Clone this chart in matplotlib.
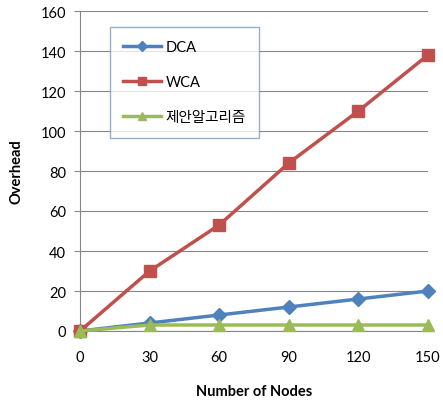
import matplotlib
matplotlib.use("Agg")
import matplotlib.pyplot as plt

nodes = [0, 30, 60, 90, 120, 150]
dca = [0, 4, 8, 12, 16, 20]
wca = [0, 30, 53, 84, 110, 138]
proposed = [0, 3, 3, 3, 3, 3]
labels = ["DCA", "WCA", "제안알고리즘"]

plt.rcParams['font.family'] = ['Lato', 'Noto Sans CJK KR', 'DejaVu Sans']

fig = plt.figure(figsize=(4.43, 4.06), dpi=100)
ax = fig.add_axes([80/443, 74/406, 348/443, 320/406])

ax.plot(nodes, dca, color='#4F81BD', marker='D', markersize=7, linewidth=2.5, label=labels[0], clip_on=False, zorder=3)
ax.plot(nodes, wca, color='#C0504D', marker='s', markersize=8, linewidth=2.5, label=labels[1], clip_on=False, zorder=3)
ax.plot(nodes, proposed, color='#9BBB59', marker='^', markersize=8, linewidth=2.5, label=labels[2], clip_on=False, zorder=4)

ax.set_xlim(0, 150)
ax.set_ylim(0, 160)
ax.set_xticks(nodes)
ax.set_yticks(range(0, 161, 20))
ax.yaxis.grid(True, color='#868686', linewidth=0.8)
ax.set_axisbelow(True)
for s in ['top', 'right']:
    ax.spines[s].set_visible(False)
for s in ['left', 'bottom']:
    ax.spines[s].set_color('#868686')
ax.tick_params(axis='y', length=4, color='#868686', labelsize=10.5, pad=6)
ax.tick_params(axis='x', length=0, labelsize=10.5, pad=14)

ax.set_xlabel("Number of Nodes", fontsize=10.5, fontweight='bold', labelpad=14)
ax.set_ylabel("Overhead", fontsize=10.5, fontweight='bold', labelpad=12)

leg = ax.legend(loc='upper left', bbox_to_anchor=(30/348, 1 - 16/320), borderaxespad=0,
                frameon=True, fancybox=False, edgecolor='#7F9DB9', labelspacing=1.45,
                handlelength=2.6, handletextpad=0.3, borderpad=0.9, markerscale=0.75,
                prop={'family': ['Lato', 'Noto Sans CJK KR'], 'size': 10.5})
leg.get_frame().set_linewidth(1.0)

fig.savefig("out.png", dpi=100)
